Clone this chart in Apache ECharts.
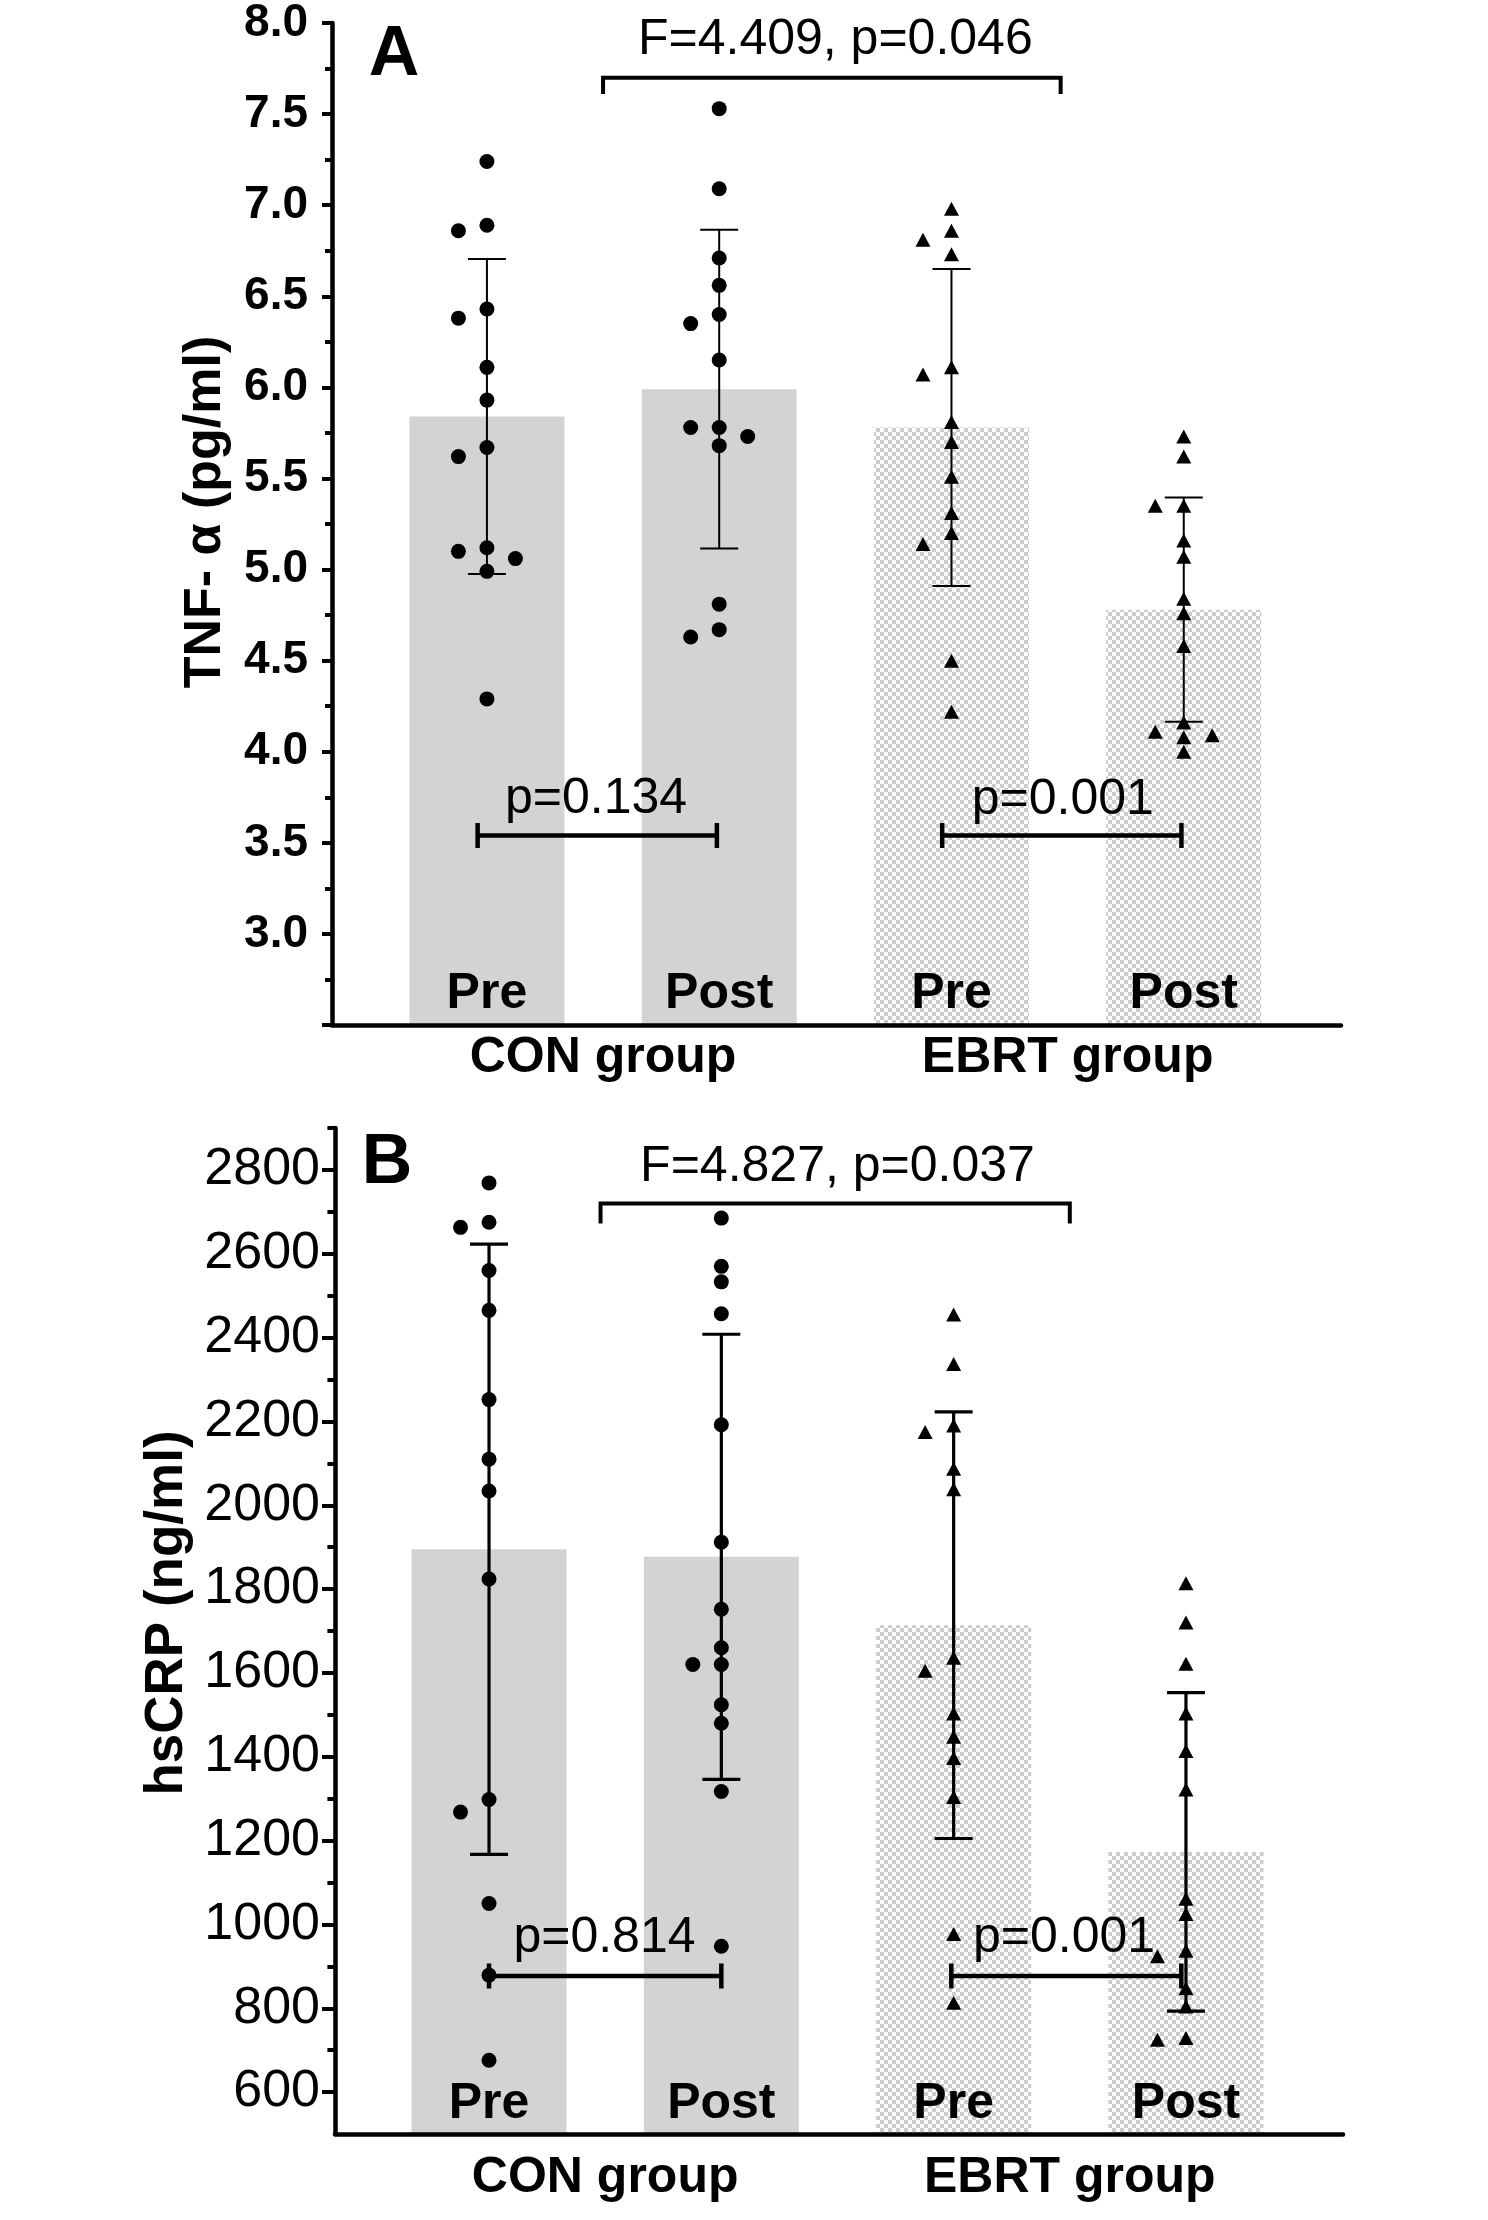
<!DOCTYPE html>
<html><head><meta charset="utf-8">
<script src="https://cdn.jsdelivr.net/npm/echarts@6/dist/echarts.min.js"></script>
<style>html,body{margin:0;padding:0;background:#fff}#chart{width:1488px;height:2220px}</style>
</head><body><div id="chart"></div>
<script>
// ---------- data ----------
const categories = ['Pre', 'Post', 'Pre', 'Post'];
const groupNames = ['CON group', 'EBRT group'];

// Panel A: TNF-alpha (pg/ml)
const tnfConPre   = [7.24, 6.89, 6.86, 6.43, 6.38, 6.11, 5.93, 5.67, 5.62, 5.12, 5.10, 5.06, 4.99, 4.29];
const tnfConPost  = [7.53, 7.09, 6.71, 6.56, 6.40, 6.35, 6.15, 5.78, 5.78, 5.73, 5.68, 4.81, 4.67, 4.63];
const tnfEbrtPre  = [6.98, 6.86, 6.81, 6.73, 6.11, 6.07, 5.81, 5.70, 5.51, 5.31, 5.20, 5.14, 4.50, 4.22];
const tnfEbrtPost = [5.73, 5.62, 5.35, 5.35, 5.16, 5.07, 4.84, 4.76, 4.58, 4.16, 4.11, 4.09, 4.08, 4.00];
const tnfMean = [5.84, 5.99, 5.78, 4.78];
const tnfSD   = [0.865, 0.875, 0.87, 0.615];
const tnfStats = ['F=4.409, p=0.046', 'p=0.134', 'p=0.001'];

// Panel B: hsCRP (ng/ml)
const crpConPre   = [2769, 2675, 2663, 2560, 2465, 2252, 2110, 2034, 1824, 1298, 1268, 1050, 879, 676];
const crpConPost  = [2685, 2570, 2533, 2457, 2192, 1912, 1752, 1660, 1620, 1620, 1524, 1480, 1317, 948];
const crpEbrtPre  = [2455, 2337, 2190, 2175, 2087, 2038, 1636, 1605, 1503, 1448, 1397, 1304, 977, 813];
const crpEbrtPost = [1814, 1720, 1622, 1503, 1414, 1322, 1061, 1025, 937, 924, 848, 804, 729, 725];
const crpMean = [1895, 1877, 1714, 1173];
const crpSD   = [728, 531, 509, 380];
const crpStats = ['F=4.827, p=0.037', 'p=0.814', 'p=0.001'];

// tick labels
const tnfRange = [2.5, 8.0];
const crpRange = [500, 2900];
const crpTicks = [600, 800, 1000, 1200, 1400, 1600, 1800, 2000, 2200, 2400, 2600, 2800];
const crpMinorTicks = [700, 900, 1100, 1300, 1500, 1700, 1900, 2100, 2300, 2500, 2700, 2900];

// ---------- layout (annotation placement in axis units) ----------
const layoutA = {
  fText: [2.5, 7.908], span: [1.5, 3.47, 7.70, 7.61],
  pairs: [[0.96, 1.99, 3.54], [2.96, 3.99, 3.54]],
  pText: [[1.47, 3.738], [3.479, 3.733]]
};
const layoutB = {
  fText: [2.5, 2806], span: [1.48, 3.50, 2720, 2672],
  pairs: [[1.0, 2.0, 877], [2.99, 3.98, 877]],
  pText: [[1.497, 968], [3.475, 968]]
};

const FONT = '"Liberation Sans", Arial, sans-serif';
const SWARM_STEP = 0.1227;
const gridA = {left: 332, top: 18, width: 1009, height: 1007};
const gridB = {left: 335, top: 1128, width: 1008, height: 1006};
const xRangeA = [0.333, 4.677];
const xRangeB = [0.337, 4.676];

// checker pattern for EBRT bars
const pc = document.createElement('canvas');
pc.width = 8; pc.height = 8;
const pctx = pc.getContext('2d');
pctx.fillStyle = '#ffffff'; pctx.fillRect(0, 0, 8, 8);
pctx.fillStyle = '#cccccc'; pctx.fillRect(0, 0, 4, 4); pctx.fillRect(4, 4, 4, 4);
const checker = {image: pc, repeat: 'repeat'};

function swarm(vals, center, pxPerUnit) {
  const order = vals.map((v, i) => i).sort((a, b) => vals[b] - vals[a]);
  const placed = [];
  const out = [];
  const cols = [0, -1, 1, -2, 2];
  order.forEach(i => {
    const v = vals[i];
    let c = cols.find(cc => placed.every(p => p.c !== cc || Math.abs(p.v - v) * pxPerUnit >= 14));
    if (c === undefined) c = 0;
    placed.push({c, v});
    out.push([center + c * SWARM_STEP, v]);
  });
  return out;
}

function errRender(lw) {
  return function (params, api) {
    const x = api.value(0), m = api.value(1), s = api.value(2);
    const t = api.coord([x, m + s]), b = api.coord([x, m - s]);
    const hw = 19;
    const st = () => ({stroke: '#000', lineWidth: lw});
    return {type: 'group', children: [
      {type: 'line', shape: {x1: t[0], y1: t[1], x2: b[0], y2: b[1]}, style: st()},
      {type: 'line', shape: {x1: t[0] - hw, y1: t[1], x2: t[0] + hw, y2: t[1]}, style: st()},
      {type: 'line', shape: {x1: b[0] - hw, y1: b[1], x2: b[0] + hw, y2: b[1]}, style: st()}
    ]};
  };
}
function pairRender(params, api) {
  const y = api.value(2);
  const a = api.coord([api.value(0), y]), b = api.coord([api.value(1), y]);
  const h = 12.5;
  const st = () => ({stroke: '#000', lineWidth: 4.5});
  return {type: 'group', children: [
    {type: 'line', shape: {x1: a[0], y1: a[1], x2: b[0], y2: b[1]}, style: st()},
    {type: 'line', shape: {x1: a[0], y1: a[1] - h, x2: a[0], y2: a[1] + h}, style: st()},
    {type: 'line', shape: {x1: b[0], y1: b[1] - h, x2: b[0], y2: b[1] + h}, style: st()}
  ]};
}
function spanRender(params, api) {
  const a1 = api.coord([api.value(0), api.value(2)]), a2 = api.coord([api.value(0), api.value(3)]);
  const b1 = api.coord([api.value(1), api.value(2)]), b2 = api.coord([api.value(1), api.value(3)]);
  return {type: 'polyline', shape: {points: [a2, a1, b1, b2]}, style: {stroke: '#000', lineWidth: 4, fill: null}};
}
function textRender(texts) {
  return function (params, api) {
    const p = api.coord([api.value(0), api.value(1)]);
    return {type: 'text', x: p[0], y: p[1], style: {
      text: texts[params.dataIndex], fill: '#000', fontSize: 50, fontFamily: FONT,
      align: 'center', verticalAlign: 'middle'}};
  };
}

function barData(means) {
  return means.map((m, i) => ({value: [i + 1, m], itemStyle: {color: i < 2 ? '#d3d3d3' : checker}}));
}

function panelSeries(xi, yi, d, lw, layout, stats, pxPerUnit) {
  const base = {xAxisIndex: xi, yAxisIndex: yi};
  const pts = [d.conPre, d.conPost, d.ebrtPre, d.ebrtPost];
  const s = [
    Object.assign({type: 'bar', barWidth: 155, data: barData(d.mean), z: 1}, base),
    Object.assign({type: 'custom', renderItem: errRender(lw), encode: {x: 0, y: 1},
      data: d.mean.map((m, i) => [i + 1, m, d.sd[i]]), z: 3}, base)
  ];
  pts.forEach((vals, i) => {
    s.push(Object.assign({type: 'scatter', symbol: i < 2 ? 'circle' : 'triangle',
      symbolSize: i < 2 ? 15 : [15, 14], itemStyle: {color: '#000', opacity: 1}, z: 4,
      data: swarm(vals, i + 1, pxPerUnit)}, base));
  });
  s.push(Object.assign({type: 'custom', renderItem: pairRender, encode: {x: [0, 1], y: 2}, data: layout.pairs, z: 5}, base));
  s.push(Object.assign({type: 'custom', renderItem: spanRender, encode: {x: [0, 1], y: [2, 3]}, data: [layout.span], z: 5}, base));
  s.push(Object.assign({type: 'custom', renderItem: textRender(stats), encode: {x: 0, y: 1},
    data: [layout.fText, layout.pText[0], layout.pText[1]], z: 6}, base));
  return s;
}

function xMain(gi, range, margin) {
  return {type: 'value', gridIndex: gi, min: range[0], max: range[1], position: 'bottom', z: 10,
    axisLine: {show: true, onZero: false, lineStyle: {color: '#000', width: 4.5}},
    axisTick: {show: false}, splitLine: {show: false},
    axisLabel: {show: true, inside: true, margin: margin, customValues: [1, 2, 3, 4],
      formatter: v => categories[Math.round(v) - 1],
      color: '#000', fontSize: 50, fontWeight: 'bold', fontFamily: FONT}};
}
function xGroup(gi, range, margin) {
  return {type: 'value', gridIndex: gi, min: range[0], max: range[1], position: 'bottom',
    axisLine: {show: false, onZero: false}, axisTick: {show: false}, splitLine: {show: false},
    axisLabel: {show: true, margin: margin, customValues: [1.5, 3.5],
      formatter: v => groupNames[v < 2.5 ? 0 : 1],
      color: '#000', fontSize: 50, fontWeight: 'bold', fontFamily: FONT}};
}

const chart = echarts.init(document.getElementById('chart'), null, {renderer: 'canvas'});
const option = {
  animation: false,
  backgroundColor: '#fff',
  grid: [gridA, gridB],
  xAxis: [xMain(0, xRangeA, 6), xGroup(0, xRangeA, 8), xMain(1, xRangeB, 5), xGroup(1, xRangeB, 19)],
  yAxis: [
    {type: 'value', gridIndex: 0, position: 'left', min: tnfRange[0], max: tnfRange[1], interval: 0.5, z: 10,
      name: 'TNF- α (pg/ml)', nameLocation: 'middle', nameRotate: 90, nameGap: 100,
      nameTextStyle: {color: '#000', fontSize: 52, fontWeight: 'bold', fontFamily: FONT, padding: [0, 0, 0, 24]},
      axisLine: {show: true, onZero: false, lineStyle: {color: '#000', width: 4.5}},
      axisTick: {show: true, length: 10, lineStyle: {color: '#000', width: 4}},
      minorTick: {show: true, splitNumber: 2, length: 7, lineStyle: {color: '#000', width: 4}},
      splitLine: {show: false}, minorSplitLine: {show: false},
      axisLabel: {margin: 24, showMinLabel: false, formatter: v => v.toFixed(1),
        color: '#000', fontSize: 46, fontWeight: 'bold', fontFamily: FONT}},
    {type: 'value', gridIndex: 1, position: 'left', min: crpRange[0], max: crpRange[1], z: 10,
      name: 'hsCRP (ng/ml)', nameLocation: 'middle', nameRotate: 90, nameGap: 141,
      nameTextStyle: {color: '#000', fontSize: 53, fontWeight: 'bold', fontFamily: FONT, padding: [0, 0, 0, 36]},
      axisLine: {show: true, onZero: false, lineStyle: {color: '#000', width: 4.5}},
      axisTick: {show: true, length: 13, customValues: crpTicks, lineStyle: {color: '#000', width: 4}},
      splitLine: {show: false},
      axisLabel: {margin: 15, customValues: crpTicks, formatter: v => String(v),
        color: '#000', fontSize: 52, fontFamily: FONT}},
    {type: 'value', gridIndex: 1, position: 'left', offset: 0, min: crpRange[0], max: crpRange[1], z: 10,
      axisLine: {show: false, onZero: false},
      axisTick: {show: true, length: 7.6, customValues: crpMinorTicks, lineStyle: {color: '#000', width: 4}},
      splitLine: {show: false}, axisLabel: {show: false}}
  ],
  graphic: [
    {type: 'text', x: 394, y: 56, style: {text: 'A', fill: '#000', fontSize: 70, fontWeight: 'bold', fontFamily: FONT, align: 'center', verticalAlign: 'middle'}},
    {type: 'text', x: 387, y: 1164, style: {text: 'B', fill: '#000', fontSize: 70, fontWeight: 'bold', fontFamily: FONT, align: 'center', verticalAlign: 'middle'}}
  ],
  series: [].concat(
    panelSeries(0, 0, {conPre: tnfConPre, conPost: tnfConPost, ebrtPre: tnfEbrtPre, ebrtPost: tnfEbrtPost, mean: tnfMean, sd: tnfSD},
      2, layoutA, tnfStats, gridA.height / (tnfRange[1] - tnfRange[0])),
    panelSeries(2, 1, {conPre: crpConPre, conPost: crpConPost, ebrtPre: crpEbrtPre, ebrtPost: crpEbrtPost, mean: crpMean, sd: crpSD},
      3.2, layoutB, crpStats, gridB.height / (crpRange[1] - crpRange[0]))
  )
};
chart.setOption(option);
</script></body></html>
